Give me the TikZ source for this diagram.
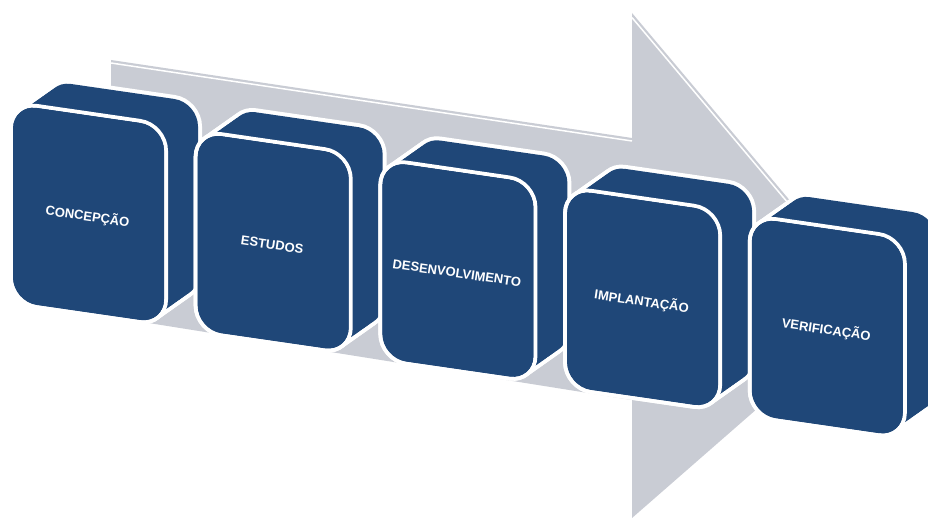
\documentclass[tikz,border=0pt]{standalone}
\usepackage{fontspec}
\setmainfont{Liberation Sans}
\definecolor{boxblue}{RGB}{31,71,120}
\definecolor{arrowgrey}{RGB}{201,204,212}

% Skewed rounded face: #1,#2 = top-left of the blue area, #3 = outward growth
\newcommand\facepath[3]{%
  \pgfmathsetmacro\fL{#1-#3}%
  \pgfmathsetmacro\fR{#1+151+#3}%
  \pgfmathsetmacro\fTL{#2-#3-#3*0.145}%
  \pgfmathsetmacro\fTR{#2-#3+(151+#3)*0.145}%
  \pgfmathsetmacro\fH{197+2*#3}%
  \pgfmathsetmacro\fRad{24+#3}%
}
\newcommand\faceshape{%
  (\fL,{\fTL+\fH/2}) -- (\fL,\fTL) -- (\fR,\fTR) -- (\fR,{\fTR+\fH})
  -- (\fL,{\fTL+\fH}) -- cycle}

\tikzset{
  boxlabel/.style={text=white, font=\fontsize{13}{15}\selectfont\bfseries,
                   inner sep=0pt, rotate=-8.3},
  rim/.style={draw=white, line join=round},
}

\begin{document}
\begin{tikzpicture}[x=1pt, y=-1pt]
  \useasboundingbox (0,0) rectangle (928,518);
  \fill[white] (0,0) rectangle (928,518);

  % big perspective arrow in the background
  \fill[arrowgrey] (111,60) -- (632,138) -- (632,13) -- (877,304)
    -- (632,518) -- (632,400) -- (111,317) -- cycle;
  \draw[white, line width=1.5] (111,63) -- (632,141);
  \draw[white, line width=1.5] (632,17.6) -- (850,276.6);

  % the five stages as extruded blocks
  \foreach \bi/\lbl in {0/CONCEPÇÃO, 1/ESTUDOS, 2/DESENVOLVIMENTO,
                        3/IMPLANTAÇÃO, 4/VERIFICAÇÃO} {
    \pgfmathsetmacro\X{13+184.7*\bi}
    \pgfmathsetmacro\Y{104.5+28.3*\bi}
    % white outline of the extruded body
    \foreach \k in {0,1,...,12} {
      \pgfmathsetmacro\sx{\X+34*\k/12}
      \pgfmathsetmacro\sy{\Y-24*\k/12}
      \facepath{\sx}{\sy}{0}
      \draw[rim, line width=8, rounded corners=\fRad] \faceshape;
    }
    % blue body
    \foreach \k in {0,1,...,12} {
      \pgfmathsetmacro\sx{\X+34*\k/12}
      \pgfmathsetmacro\sy{\Y-24*\k/12}
      \facepath{\sx}{\sy}{0}
      \fill[boxblue, rounded corners=\fRad] \faceshape;
    }
    % front face with its white rim
    \facepath{\X}{\Y}{2}
    \draw[rim, line width=4, rounded corners=\fRad] \faceshape;
    \facepath{\X}{\Y}{0}
    \fill[boxblue, rounded corners=\fRad] \faceshape;
    \node[boxlabel] (box\bi) at ({\X+74.5},{\Y+112}) {\lbl};
  }
\end{tikzpicture}
\end{document}
